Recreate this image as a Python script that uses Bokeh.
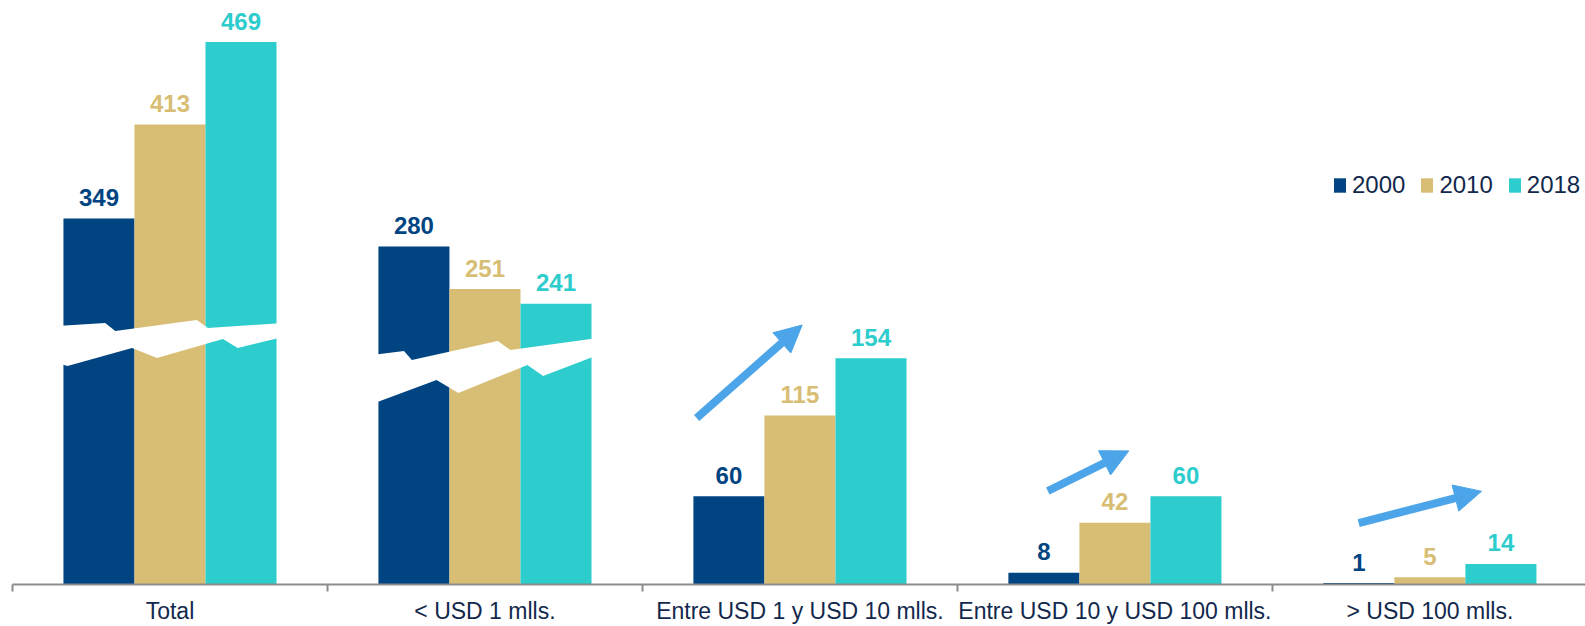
from bokeh.plotting import figure
from bokeh.models import ColumnDataSource, Range1d, FixedTicker, Arrow, NormalHead, Legend, LegendItem
from bokeh.core.properties import value
from bokeh.embed import file_html
from bokeh.resources import INLINE

# ---------------- data ----------------
categories = ["Total", "< USD 1 mlls.", "Entre USD 1 y USD 10 mlls.",
              "Entre USD 10 y USD 100 mlls.", "> USD 100 mlls."]
years = ["2000", "2010", "2018"]
v2000 = [349, 280, 60, 8, 1]
v2010 = [413, 251, 115, 42, 5]
v2018 = [469, 241, 154, 60, 14]
# broken-axis amount removed from the first two groups
axis_cut = [100, 50, 0, 0, 0]

# ---------------- style ----------------
colors = ["#004481", "#D8BE75", "#2DCCCD"]
text_dark = "#12284C"
arrow_color = "#4BA5E8"
bar_w = 0.2255
offsets = [-bar_w, 0.0, bar_w]
FONT = "Liberation Sans"

# break-band shapes: (fraction across group, displayed value)
band_shapes = {
    0: [(-0.03, 175.9), (0.196, 177.9), (0.243, 172.4), (0.626, 179.9), (0.678, 174.5), (1.03, 177.9),
        (1.03, 168.4), (0.818, 160.9), (0.748, 167.0), (0.439, 154.1), (0.322, 160.9), (0.019, 148.6), (-0.03, 150.7)],
    1: [(-0.03, 156.1), (0.12, 158.8), (0.157, 152.7), (0.56, 165.6), (0.62, 159.5), (1.03, 167.7),
        (1.03, 156.1), (0.773, 141.8), (0.699, 149.3), (0.375, 130.3), (0.273, 139.1), (-0.03, 122.8)],
}
# trend arrows: (group, start frac, start value, end frac, end value) relative to group centre
trend_arrows = [(2, -0.328, 113.3, 0.007, 176.5),
                (3, -0.213, 63.6, 0.044, 90.9),
                (4, -0.226, 41.8, 0.164, 63.4)]

n = len(categories)
p = figure(width=1585, height=626, output_backend="svg", toolbar_location=None,
           x_range=Range1d(-0.5, 4.494), y_range=Range1d(0, 397.3),
           min_border_left=12, min_border_right=0, min_border_top=0, min_border_bottom=42,
           y_axis_location=None)
p.outline_line_color = None
p.xgrid.grid_line_color = None
p.ygrid.grid_line_color = None
p.background_fill_color = "white"

series = [v2000, v2010, v2018]
renderers = []
for i, vals in enumerate(series):
    xs = [j + offsets[i] for j in range(n)]
    tops = [v - c for v, c in zip(vals, axis_cut)]
    src = ColumnDataSource(dict(x=xs, top=tops, lab=[str(v) for v in vals]))
    r = p.vbar(x="x", top="top", bottom=0, width=bar_w, source=src,
               fill_color=colors[i], line_color=None)
    renderers.append(r)
    p.text(x="x", y="top", text="lab", source=src, text_align="center",
           text_baseline="alphabetic", y_offset=-21,
           text_font=value(FONT), text_font_style="bold",
           text_font_size="24px", text_color=colors[i])

# white break bands
xs_b, ys_b = [], []
for j, shape in band_shapes.items():
    left = j - 1.5 * bar_w
    span = 3 * bar_w
    xs_b.append([left + f * span for f, _ in shape])
    ys_b.append([y for _, y in shape])
p.patches(xs_b, ys_b, fill_color="white", line_color=None)

# arrows
for j, f0, y0, f1, y1 in trend_arrows:
    p.add_layout(Arrow(x_start=j + f0, y_start=y0, x_end=j + f1, y_end=y1,
                       line_color=arrow_color, line_width=8,
                       end=NormalHead(size=27, fill_color=arrow_color, line_color=arrow_color)))

# axis
ax = p.xaxis[0]
ax.ticker = FixedTicker(ticks=list(range(n)), minor_ticks=[k - 0.5 for k in range(n + 1)])
ax.major_label_overrides = {k: c for k, c in enumerate(categories)}
ax.major_tick_line_color = None
ax.major_tick_out = 0
ax.major_tick_in = 0
ax.minor_tick_line_color = "#8C8C8C"
ax.minor_tick_line_width = 2
ax.minor_tick_out = 7
ax.minor_tick_in = 0
ax.axis_line_color = "#8C8C8C"
ax.axis_line_width = 2
ax.major_label_standoff = 6
ax.major_label_text_font = FONT
ax.major_label_text_font_size = "23px"
ax.major_label_text_color = text_dark

legend = Legend(items=[LegendItem(label=y, renderers=[r]) for y, r in zip(years, renderers)],
                orientation="horizontal", location=(1320, 385),
                glyph_width=15, glyph_height=18, label_standoff=5, spacing=14,
                padding=0, margin=0, border_line_color=None, background_fill_alpha=0,
                label_text_font=FONT, label_text_font_size="24px", label_text_color=text_dark)
p.add_layout(legend, "center")

open("out.html", "w").write(file_html(p, INLINE))
